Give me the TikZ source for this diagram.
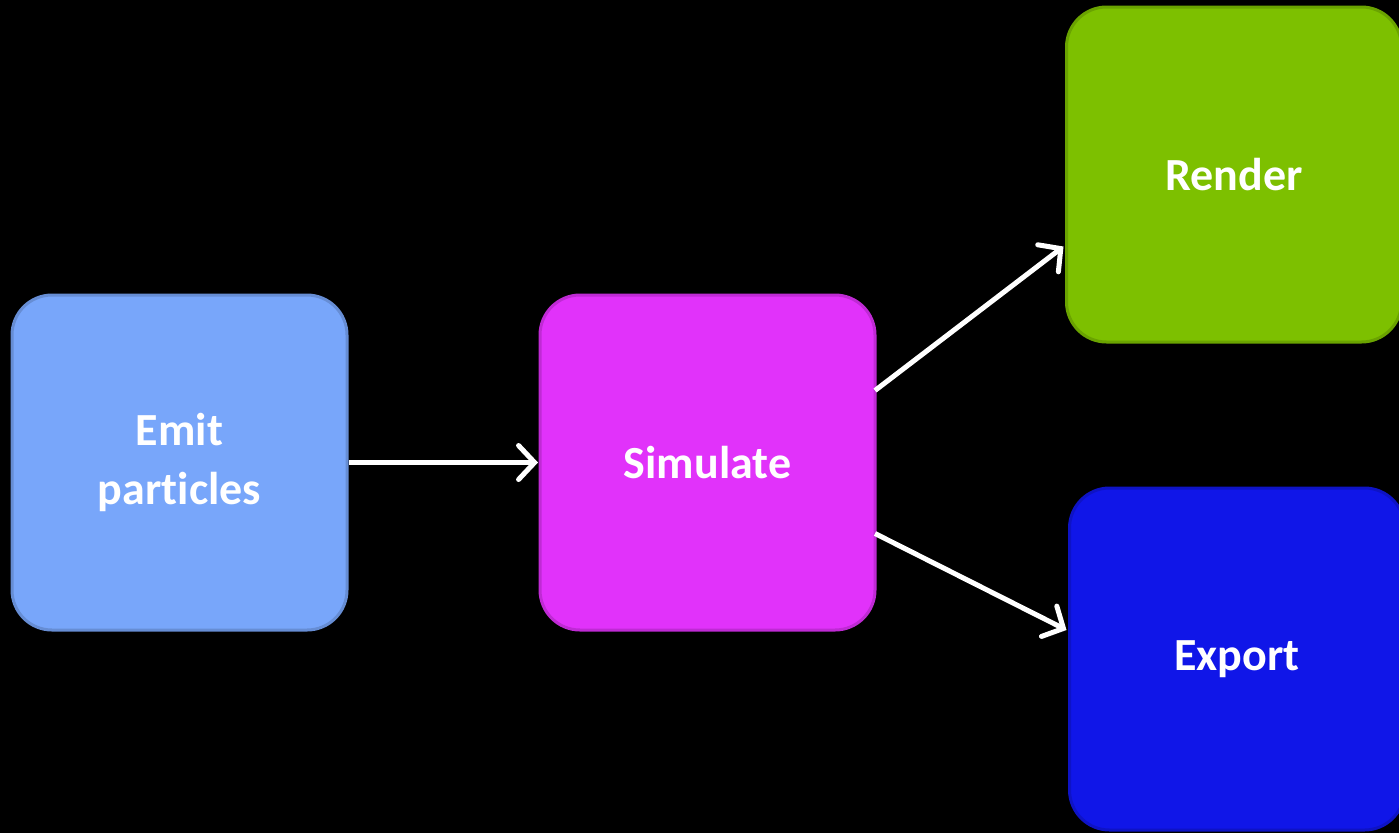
\documentclass[tikz,border=0pt]{standalone}
\usepackage{fontspec}
\setmainfont{Carlito}[Ligatures=NoCommon]
\usepackage{tikz}
\usetikzlibrary{arrows.meta,positioning,calc}
\definecolor{emitBlue}{RGB}{120,166,250}
\definecolor{simMagenta}{RGB}{225,50,250}
\definecolor{renderGreen}{RGB}{125,192,0}
\definecolor{exportBlue}{RGB}{16,22,232}
\tikzset{
  stage node/.style={rounded corners=40pt,line width=3pt,outer sep=0pt,align=center,text=white,font=\fontsize{46}{59}\selectfont\bfseries,minimum width=335pt,minimum height=335pt,inner sep=0pt},
  stage node blue/.style={stage node,draw=emitBlue!85!black,fill=emitBlue},
  stage node magenta/.style={stage node,draw=simMagenta!85!black,fill=simMagenta},
  stage node green/.style={stage node,draw=renderGreen!85!black,fill=renderGreen},
  stage node navy/.style={stage node,draw=exportBlue!85!black,fill=exportBlue},
  flow arrow/.style={-{Straight Barb[length=16pt,width=34pt,line cap=round]},line width=5pt,draw=white}
}
\begin{document}
\begin{tikzpicture}[x=1pt,y=-1pt,node distance=4mm and 193pt]
        \fill[black] (0,0) rectangle (1399,833);
        \useasboundingbox (0,0) rectangle (1399,833);
        \node[stage node blue] (emit) at (179.5,462.5) {Emit\\particles};
        \node[stage node magenta,right=of emit] (simulate) {Simulate};
        \node[stage node green] (render) at (1234,174.5) {Render};
        \node[stage node navy,minimum height=342pt] (export) at (1237,659) {Export};
        \draw[flow arrow] ([xshift=2pt]emit.east) -- ([xshift=-2pt]simulate.west);
        \draw[flow arrow] ([yshift=72pt]simulate.east) -- ([xshift=-3pt,yshift=-72pt]render.west);
        \draw[flow arrow] ([yshift=-71pt]simulate.east) -- ([xshift=-3pt,yshift=29pt]export.west);
      \end{tikzpicture}
\end{document}
